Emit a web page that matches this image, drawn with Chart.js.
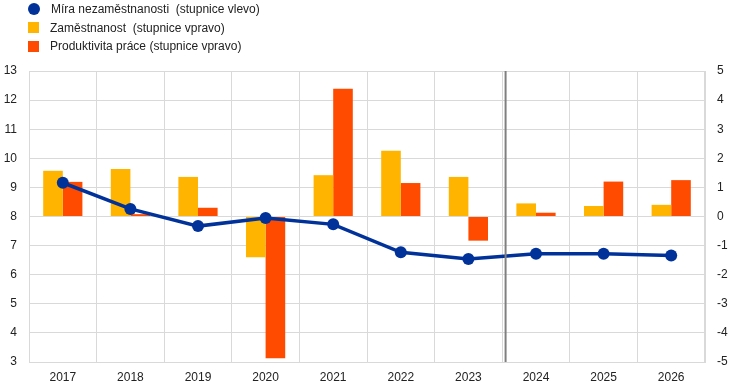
<!DOCTYPE html>
<html>
<head>
<meta charset="utf-8">
<script src="https://cdn.jsdelivr.net/npm/chart.js@4/dist/chart.umd.min.js"></script>
<style>
  html, body { margin: 0; padding: 0; background: #fff; }
  #wrap { position: relative; width: 744px; height: 392px; }
  #legend { position: absolute; left: 28px; top: 0px; font-family: "Liberation Sans", Arial, sans-serif; font-size: 12px; color: #222; }
  .item { height: 18.5px; display: flex; align-items: center; white-space: pre; }
  .sym { width: 11px; height: 11px; margin-right: 11px; }
  .circ { border-radius: 50%; width: 12px; height: 12px; }
</style>
</head>
<body>
<div id="wrap">
  <canvas id="c" width="744" height="392"></canvas>
  <div id="legend"></div>
</div>
<script>
const categories = ["2017","2018","2019","2020","2021","2022","2023","2024","2025","2026"];
const unemployment = [9.16, 8.26, 7.67, 7.95, 7.73, 6.77, 6.54, 6.72, 6.72, 6.66];
const employment = [1.57, 1.63, 1.36, -1.40, 1.42, 2.26, 1.36, 0.45, 0.36, 0.40];
const productivity = [1.19, 0.08, 0.30, -4.87, 4.39, 1.15, -0.83, 0.13, 1.20, 1.25];
const legendLabels = ["Míra nezaměstnanosti  (stupnice vlevo)", "Zaměstnanost  (stupnice vpravo)", "Produktivita práce (stupnice vpravo)"];
const leftTicks = [3, 4, 5, 6, 7, 8, 9, 10, 11, 12, 13];
const rightTicks = [-5, -4, -3, -2, -1, 0, 1, 2, 3, 4, 5];
const projectionStart = 6.55;

const BLUE = "#003299", YELLOW = "#FFB400", RED = "#FF4B00";
const FONT = { family: "'Liberation Sans', Arial, sans-serif", size: 12 };

const legendColors = [BLUE, YELLOW, RED];
const lg = document.getElementById('legend');
legendLabels.forEach((t, i) => {
  const d = document.createElement('div'); d.className = 'item';
  const s = document.createElement('span'); s.className = 'sym' + (i === 0 ? ' circ' : '');
  s.style.background = legendColors[i];
  d.appendChild(s);
  const tx = document.createElement('span'); tx.textContent = t; d.appendChild(tx);
  lg.appendChild(d);
});

const vline = {
  id: 'vline',
  afterDatasetsDraw(chart) {
    const x = chart.scales.x.getPixelForValue(projectionStart);
    const a = chart.chartArea, ctx = chart.ctx;
    ctx.save();
    ctx.strokeStyle = '#7f7f7f'; ctx.lineWidth = 2;
    ctx.beginPath(); ctx.moveTo(x, a.top); ctx.lineTo(x, a.bottom); ctx.stroke();
    ctx.restore();
  }
};

new Chart(document.getElementById('c'), {
  data: {
    labels: categories,
    datasets: [
      { type: 'line', label: legendLabels[0], data: unemployment, yAxisID: 'y',
        borderColor: BLUE, backgroundColor: BLUE, borderWidth: 3.5,
        pointRadius: 6, pointBackgroundColor: BLUE, pointBorderWidth: 0, order: 0 },
      { type: 'bar', label: legendLabels[1], data: employment, yAxisID: 'y1',
        backgroundColor: YELLOW, categoryPercentage: 0.58, barPercentage: 1, order: 1 },
      { type: 'bar', label: legendLabels[2], data: productivity, yAxisID: 'y1',
        backgroundColor: RED, categoryPercentage: 0.58, barPercentage: 1, order: 2 }
    ]
  },
  options: {
    responsive: false, animation: false,
    layout: { padding: { top: 71, left: 0, right: 0, bottom: 0 } },
    plugins: { legend: { display: false }, tooltip: { enabled: false } },
    scales: {
      x: {
        grid: { color: '#d9d9d9', lineWidth: 1, drawTicks: false, offset: true },
        border: { color: '#d9d9d9' },
        ticks: { color: '#222', font: FONT, padding: 8, maxRotation: 0 },
        afterFit(s) { s.height = 30; }
      },
      y: {
        position: 'left', min: 3, max: 13,
        afterBuildTicks(s) { s.ticks = leftTicks.map(v => ({ value: v })); },
        grid: { color: '#d9d9d9', lineWidth: 1, drawTicks: false },
        border: { color: '#d9d9d9' },
        ticks: { color: '#222', font: FONT, padding: 12 },
        afterFit(s) { s.width = 29; }
      },
      y1: {
        position: 'right', min: -5, max: 5,
        afterBuildTicks(s) { s.ticks = rightTicks.map(v => ({ value: v })); },
        grid: { drawOnChartArea: false, drawTicks: false },
        border: { color: '#d9d9d9' },
        ticks: { color: '#222', font: FONT, padding: 12 },
        afterFit(s) { s.width = 39; }
      }
    }
  },
  plugins: [vline]
});
</script>
</body>
</html>
